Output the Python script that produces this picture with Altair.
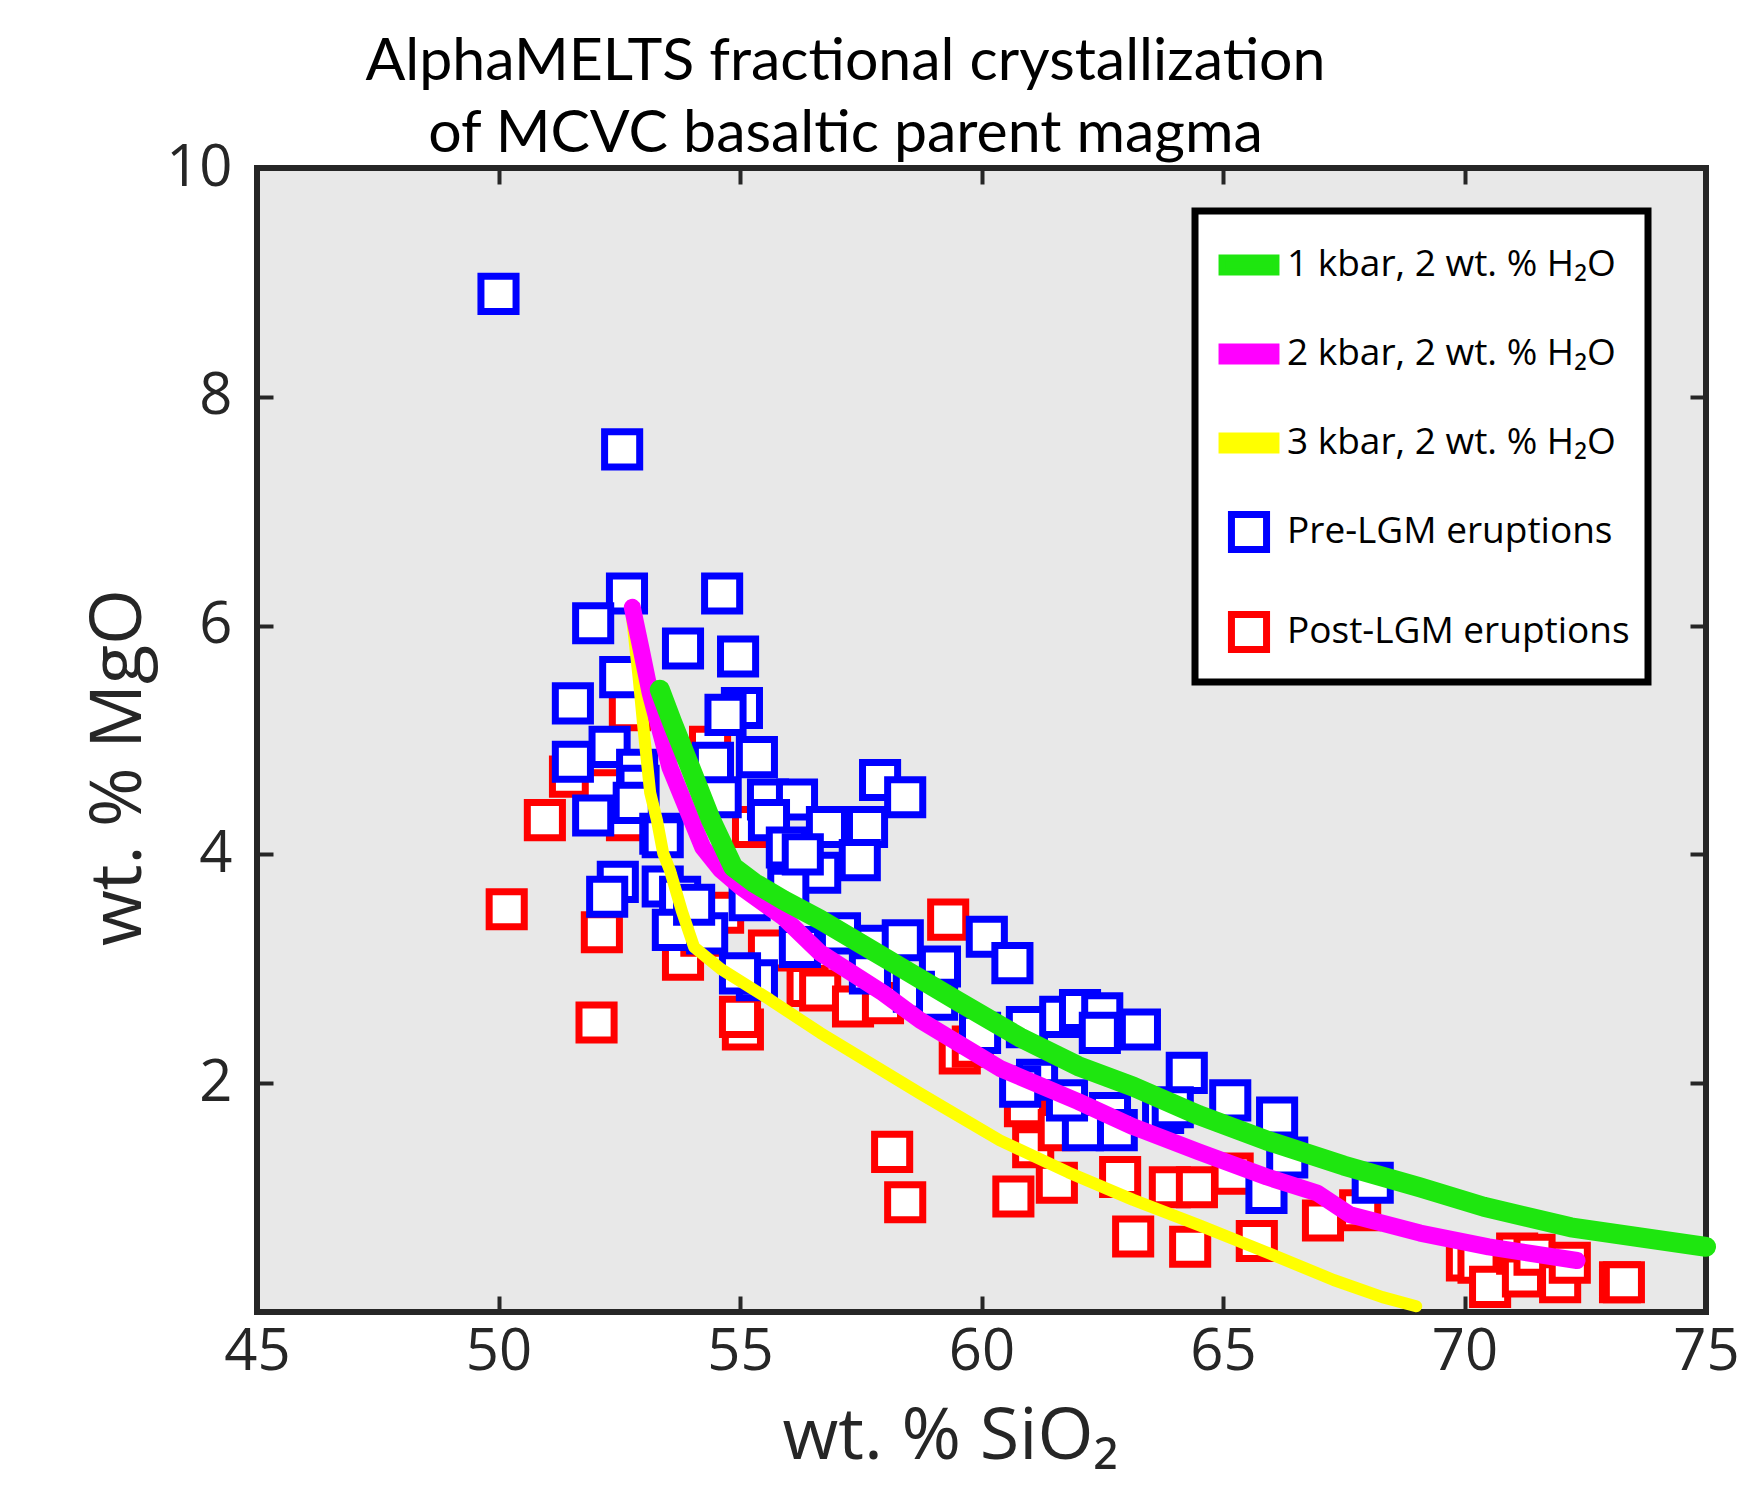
import altair as alt
import pandas as pd

# ---------------- data ----------------
pre_x = [50.0, 52.56, 52.66, 54.63, 51.96, 53.82, 54.96, 52.52, 51.54, 55.04, 54.7, 51.54, 52.3, 52.87, 52.9,
         52.8, 54.44, 55.35, 51.96, 53.35, 53.4, 55.58, 56.18, 54.6, 55.6, 57.9, 58.42, 57.63, 56.8, 55.97,
         57.48, 56.66, 56.0, 56.3, 55.2, 52.47, 52.25, 53.4, 53.76, 53.61, 54.32, 54.05, 57.07, 57.8, 58.37,
         59.14, 60.11, 60.64, 55.35, 55.0, 56.24, 57.69, 58.6, 59.08, 59.97, 60.94, 61.63, 62.04, 62.5, 62.45,
         63.28, 64.25, 65.15, 66.12, 66.33, 65.9, 68.1, 63.76, 61.15, 60.8, 62.66, 62.8, 62.1, 63.96, 61.77]
pre_y = [8.90, 7.54, 6.28, 6.28, 6.02, 5.80, 5.73, 5.55, 5.32, 5.28, 5.22, 4.81, 4.94, 4.74, 4.60,
         4.45, 4.80, 4.85, 4.34, 4.18, 4.15, 4.48, 4.48, 4.50, 4.30, 4.65, 4.50, 4.24, 4.24, 4.06,
         3.95, 3.84, 3.70, 4.00, 3.60, 3.76, 3.63, 3.72, 3.63, 3.34, 3.31, 3.56, 3.31, 3.20, 3.25,
         3.02, 3.28, 3.05, 2.90, 2.96, 3.19, 2.96, 2.80, 2.73, 2.44, 2.49, 2.58, 2.64, 2.61, 2.44,
         2.47, 2.09, 1.85, 1.70, 1.35, 1.04, 1.13, 1.74, 2.03, 1.97, 1.74, 1.59, 1.59, 1.79, 1.85]

post_x = [50.17, 50.96, 51.48, 52.03, 52.14, 52.16, 52.66, 52.72, 53.82, 54.2, 54.65, 54.38, 55.27, 55.06,
          55.0, 56.4, 56.66, 57.34, 57.96, 59.31, 59.55, 59.82, 58.15, 58.42, 60.66, 61.56, 60.9, 61.07,
          61.6, 62.87, 63.14, 64.32, 63.9, 64.46, 65.2, 65.7, 67.07, 67.84, 70.05, 70.29, 70.53, 71.09,
          71.21, 71.45, 71.98, 72.18, 73.22, 73.3, 55.6]
post_y = [3.52, 4.30, 4.68, 2.53, 3.32, 4.56, 4.30, 5.26, 3.08, 3.29, 3.49, 4.94, 4.24, 2.47,
          2.58, 2.85, 2.81, 2.67, 2.70, 3.43, 2.26, 2.32, 1.40, 0.96, 1.01, 1.13, 1.80, 1.44,
          1.59, 1.18, 0.66, 0.57, 1.09, 1.09, 1.21, 0.62, 0.80, 0.89, 0.45, 0.43, 0.22, 0.51,
          0.31, 0.50, 0.26, 0.43, 0.26, 0.26, 3.16]

k1_x = [53.34, 53.6, 53.97, 54.4, 54.86, 55.3, 55.9, 56.66, 57.5, 58.3, 59.5, 60.8, 62.0, 63.14,
        64.5, 65.9, 67.5, 69.08, 70.4, 72.2, 75.0]
k1_y = [5.44, 5.15, 4.76, 4.30, 3.89, 3.75, 3.60, 3.43, 3.22, 3.02, 2.72, 2.40, 2.15, 1.97,
        1.72, 1.50, 1.28, 1.09, 0.92, 0.74, 0.57]

k2_x = [52.77, 52.95, 53.14, 53.55, 54.23, 54.59, 55.0, 55.9, 56.66, 57.96, 58.73, 60.38, 62.0,
        63.14, 64.5, 65.91, 66.95, 67.63, 69.08, 70.5, 72.33]
k2_y = [6.16, 5.80, 5.41, 4.76, 4.06, 3.87, 3.72, 3.45, 3.14, 2.79, 2.55, 2.13, 1.84,
        1.62, 1.40, 1.18, 1.04, 0.85, 0.69, 0.57, 0.45]

k3_x = [52.77, 52.9, 53.0, 53.14, 53.28, 53.41, 53.55, 53.8, 54.05, 54.6, 55.62, 56.66, 58.73,
        60.38, 61.8, 63.14, 64.5, 65.91, 67.29, 68.3, 69.0]
k3_y = [6.05, 5.55, 5.11, 4.54, 4.30, 4.01, 3.86, 3.50, 3.19, 3.00, 2.73, 2.44, 1.91,
        1.50, 1.22, 0.98, 0.76, 0.52, 0.28, 0.13, 0.05]

series_names = ["1 kbar, 2 wt. % H₂O", "2 kbar, 2 wt. % H₂O", "3 kbar, 2 wt. % H₂O",
                "Pre-LGM eruptions", "Post-LGM eruptions"]
series_colors = ["#1ee60f", "#ff00ff", "#ffff00", "#0000ff", "#ff0000"]
series_fills = ["#1ee60f", "#ff00ff", "#ffff00", "#ffffff", "#ffffff"]
BAR = "M-0.83,-0.215H0.83V0.215H-0.83Z"       # legend swatch for the model curves
BOX = "M-0.54,-0.54H0.54V0.54H-0.54Z"         # hollow square marker
series_shapes = [BAR, BAR, BAR, BOX, BOX]

x_ticks = [45, 50, 55, 60, 65, 70, 75]
y_ticks = [2, 4, 6, 8, 10]

title_lines = ["AlphaMELTS fractional crystallization", "of MCVC basaltic parent magma"]

# ---------------- tables ----------------
pre_df = pd.DataFrame({"x": pre_x, "y": pre_y, "series": series_names[3]})
post_df = pd.DataFrame({"x": post_x, "y": post_y, "series": series_names[4]})


def line_df(xs, ys, name):
    return pd.DataFrame({"x": xs, "y": ys, "series": name, "idx": list(range(len(xs)))})


l1_df = line_df(k1_x, k1_y, series_names[0])
l2_df = line_df(k2_x, k2_y, series_names[1])
l3_df = line_df(k3_x, k3_y, series_names[2])

FRAME = "#262626"
SYM = 4225
x_scale = alt.Scale(domain=[45, 75], nice=False, zero=False)
y_scale = alt.Scale(domain=[0, 10], nice=False, zero=False)
color_scale = alt.Scale(domain=series_names, range=series_colors)
fill_scale = alt.Scale(domain=series_names, range=series_fills)
shape_scale = alt.Scale(domain=series_names, range=series_shapes)

legend = alt.Legend(
    title=None, orient="none", legendX=938, legendY=43,
    fillColor="white", strokeColor="black", padding=18, rowPadding=32,
    symbolSize=SYM, symbolStrokeWidth=7, symbolOpacity=1, labelOffset=2,
    labelFont="Open Sans", labelFontSize=37, labelColor="black", labelLimit=800,
)

axis_common = dict(tickSize=16, tickWidth=4, tickColor=FRAME, domain=False, grid=False, offset=-16,
                   labelFont="Open Sans", labelFontSize=58, labelColor=FRAME, labelFlush=False)

x_bottom = alt.Axis(orient="bottom", values=x_ticks, format="d", labelPadding=11,
                    title="wt. % SiO₂", titleFont="Open Sans", titleFontSize=72,
                    titleFontWeight="normal", titleColor=FRAME, titleX=693, titleY=162,
                    titleAlign="center", titleBaseline="alphabetic", **axis_common)
y_left = alt.Axis(orient="left", values=y_ticks, format="d", labelPadding=25,
                  title="wt. % MgO", titleFont="Open Sans", titleFontSize=72,
                  titleFontWeight="normal", titleColor=FRAME, titleAngle=270,
                  titleX=-133, titleY=599, titleAlign="center", titleBaseline="alphabetic",
                  **axis_common)
x_top = alt.Axis(orient="top", values=x_ticks, labels=False, title=None, **axis_common)
y_right = alt.Axis(orient="right", values=y_ticks, labels=False, title=None, **axis_common)


def point_layer(df, xaxis, yaxis):
    return alt.Chart(df).mark_point(
        size=SYM, strokeWidth=7, filled=False, opacity=1, fillOpacity=1, strokeOpacity=1
    ).encode(
        x=alt.X("x:Q", scale=x_scale, axis=xaxis),
        y=alt.Y("y:Q", scale=y_scale, axis=yaxis),
        color=alt.Color("series:N", scale=color_scale, legend=legend),
        fill=alt.Fill("series:N", scale=fill_scale, legend=legend),
        shape=alt.Shape("series:N", scale=shape_scale, legend=legend),
    )


def line_layer(df, width):
    return alt.Chart(df).mark_line(strokeWidth=width, strokeCap="round", strokeJoin="round",
                                   opacity=1).encode(
        x=alt.X("x:Q", scale=x_scale, axis=None),
        y=alt.Y("y:Q", scale=y_scale, axis=None),
        order=alt.Order("idx:Q"),
        color=alt.Color("series:N", scale=color_scale, legend=None),
    )


def build(border):
    ch = alt.layer(
        point_layer(post_df, x_bottom, y_left),
        point_layer(pre_df, x_top, y_right),
        line_layer(l3_df, 12), line_layer(l2_df, 17), line_layer(l1_df, 20),
    ).resolve_axis(x="independent", y="independent").properties(
        width=1449, height=1144,
        title=alt.TitleParams(text=title_lines, font="Lato", fontSize=59, fontWeight="normal",
                              color="black", anchor="middle", dx=-136, dy=92, lineHeight=72,
                              baseline="bottom", offset=8),
        autosize=alt.AutoSizeParams(type="none"),
        padding={"left": 249, "top": 160, "right": 41, "bottom": 168},
    ).configure(font="Open Sans").configure_view(fill="#e8e8e8", stroke=FRAME, strokeWidth=6)
    if border:
        ch = ch.configure_legend(strokeWidth=7)
    return ch


try:
    chart = build(True)
    chart.save("out.html", embed_options={"renderer": "svg", "actions": False})
except Exception:
    chart = build(False)
    chart.save("out.html", embed_options={"renderer": "svg", "actions": False})
